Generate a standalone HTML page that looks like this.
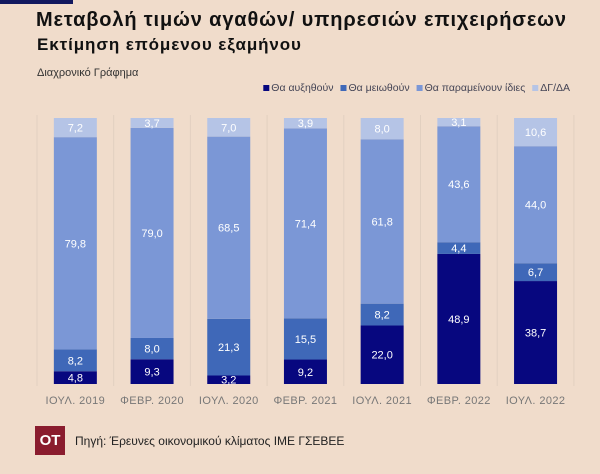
<!DOCTYPE html>
<html><head><meta charset="utf-8"><style>
body{margin:0;width:600px;height:474px;background:#f0dccb;font-family:"Liberation Sans","DejaVu Sans",sans-serif;position:relative;overflow:hidden}
.t{position:absolute;white-space:nowrap}
</style></head><body>
<div style="position:absolute;left:0;top:0;width:73px;height:4px;background:#12185f"></div>
<div class="t" style="left:36px;top:9px;font-size:20px;letter-spacing:0.85px;font-weight:bold;color:#111">Μεταβολή τιμών αγαθών/ υπηρεσιών επιχειρήσεων</div>
<div class="t" style="left:37px;top:35px;font-size:17px;letter-spacing:0.9px;font-weight:bold;color:#111">Εκτίμηση επόμενου εξαμήνου</div>
<div class="t" style="left:37px;top:67px;font-size:11px;color:#333">Διαχρονικό Γράφημα</div>
<svg id="c" width="600" height="474" style="position:absolute;left:0;top:0"></svg>
<div style="position:absolute;left:35px;top:426px;width:30px;height:29px;background:#8a1c2e;color:#fff;font-weight:bold;font-size:15px;line-height:29px;text-align:center">OT</div>
<div class="t" style="left:75px;top:434px;font-size:12px;color:#222">Πηγή: Έρευνες οικονομικού κλίματος ΙΜΕ ΓΣΕΒΕΕ</div>
<script>
const categories=["ΙΟΥΛ. 2019","ΦΕΒΡ. 2020","ΙΟΥΛ. 2020","ΦΕΒΡ. 2021","ΙΟΥΛ. 2021","ΦΕΒΡ. 2022","ΙΟΥΛ. 2022"];
const increase=[4.8,9.3,3.2,9.2,22.0,48.9,38.7];
const decrease=[8.2,8.0,21.3,15.5,8.2,4.4,6.7];
const same=[79.8,79.0,68.5,71.4,61.8,43.6,44.0];
const na=[7.2,3.7,7.0,3.9,8.0,3.1,10.6];
const seriesNames=["Θα αυξηθούν","Θα μειωθούν","Θα παραμείνουν ίδιες","ΔΓ/ΔΑ"];
const colors=["#07077f","#3f68b8","#7b97d6","#b5c4e6"];
const svg=document.getElementById('c');const NS="http://www.w3.org/2000/svg";
const x0=37,step=76.7,bw=43,yb=384,scale=2.66;
const X=i=>x0+step*i+step/2, Y=v=>yb-v*scale;
function mk(t,a){const e=document.createElementNS(NS,t);for(const k in a)e.setAttribute(k,a[k]);svg.appendChild(e);return e;}
for(let i=0;i<=categories.length;i++){const l=mk('line',{x1:x0+step*i,x2:x0+step*i,y1:115,y2:386,stroke:'#e2d0c0','stroke-width':1});

}
const series=[increase,decrease,same,na];
categories.forEach((c,i)=>{let acc=0;
 series.forEach((s,k)=>{const v=s[i];const r=mk('rect',{x:X(i)-bw/2,y:Y(acc+v),width:bw,height:v*scale,fill:colors[k]});
 
 
 const t=mk('text',{x:X(i),y:Y(acc+v/2)+4,'text-anchor':'middle','font-size':11,fill:'#fff'});t.textContent=v.toFixed(1).replace('.',',');
 
 
 acc+=v;});
 const xl=mk('text',{x:X(i),y:404,'text-anchor':'middle','font-size':11,fill:'#777','letter-spacing':'0.4'});xl.textContent=c;
 
 
});
const texts=[];
seriesNames.forEach((n,k)=>{const r=mk('rect',{x:0,y:85,width:6,height:6,fill:colors[k]});


const t=mk('text',{x:0,y:91,'font-size':10.5,fill:'#445'});t.textContent=n;


texts.push([r,t]);});
const widths=texts.map(p=>p[1].getComputedTextLength());
const total=widths.reduce((a,b)=>a+b,0)+texts.length*8+(texts.length-1)*7;
let cx=570-total;
texts.forEach((p,k)=>{p[0].setAttribute('x',cx);p[1].setAttribute('x',cx+8);cx+=8+widths[k]+7;});
</script>
</body></html>
